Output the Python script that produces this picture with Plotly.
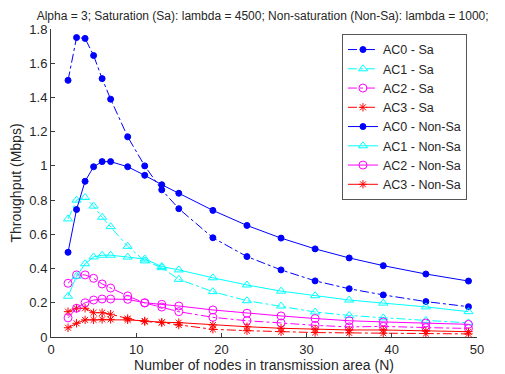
import plotly.graph_objects as go

# Number of nodes in the transmission area
nodes = [2, 3, 4, 5, 6, 7, 9, 11, 13, 15, 19, 23, 27, 31, 35, 39, 44, 49]

# Throughput (Mbps), saturation case (lambda = 4500)
ac0_sa = [1.50, 1.75, 1.745, 1.645, 1.51, 1.39, 1.17, 1.00, 0.86, 0.75, 0.58, 0.47,
          0.392, 0.328, 0.282, 0.246, 0.207, 0.177]
ac1_sa = [0.69, 0.80, 0.815, 0.765, 0.70, 0.645, 0.53, 0.445, 0.405, 0.337, 0.265, 0.212,
          0.181, 0.146, 0.126, 0.112, 0.097, 0.083]
ac2_sa = [0.314, 0.363, 0.363, 0.343, 0.31, 0.286, 0.24, 0.199, 0.175, 0.148, 0.115, 0.095,
          0.082, 0.068, 0.059, 0.062, 0.055, 0.05]
ac3_sa = [0.148, 0.168, 0.168, 0.142, 0.142, 0.133, 0.108, 0.09, 0.084, 0.07, 0.045, 0.037,
          0.031, 0.026, 0.024, 0.022, 0.02, 0.018]

# Throughput (Mbps), non-saturation case (lambda = 1000)
ac0_nsa = [0.495, 0.745, 0.91, 0.995, 1.025, 1.025, 0.995, 0.945, 0.89, 0.84, 0.74, 0.652,
           0.578, 0.515, 0.462, 0.417, 0.368, 0.327]
ac1_nsa = [0.238, 0.355, 0.428, 0.468, 0.478, 0.478, 0.467, 0.456, 0.412, 0.392, 0.346, 0.304,
           0.268, 0.241, 0.216, 0.198, 0.176, 0.148]
ac2_nsa = [0.112, 0.168, 0.2, 0.216, 0.222, 0.222, 0.22, 0.2, 0.191, 0.181, 0.158, 0.139,
           0.123, 0.108, 0.095, 0.088, 0.082, 0.074]
ac3_nsa = [0.054, 0.08, 0.1, 0.1, 0.103, 0.103, 0.1, 0.094, 0.086, 0.084, 0.07, 0.06,
           0.051, 0.045, 0.041, 0.041, 0.035, 0.031]

x_ticks = [0, 10, 20, 30, 40, 50]
y_ticks = [0, 0.2, 0.4, 0.6, 0.8, 1, 1.2, 1.4, 1.6, 1.8]

FONT = "Liberation Sans, Arial, sans-serif"
TEXT = "#262626"
AXIS = "#3a3a3a"

series = [
    ("AC0 - Sa", ac0_sa, "#0000ff", "dashdot", "circle", 6),
    ("AC1 - Sa", ac1_sa, "#00ffff", "dashdot", "triangle-up-open", 8),
    ("AC2 - Sa", ac2_sa, "#ff00ff", "dashdot", "circle-open", 8),
    ("AC3 - Sa", ac3_sa, "#ff0000", "dashdot", "asterisk-open", 7),
    ("AC0 - Non-Sa", ac0_nsa, "#0000ff", "solid", "circle", 6),
    ("AC1 - Non-Sa", ac1_nsa, "#00ffff", "solid", "triangle-up-open", 8),
    ("AC2 - Non-Sa", ac2_nsa, "#ff00ff", "solid", "circle-open", 8),
    ("AC3 - Non-Sa", ac3_nsa, "#ff0000", "solid", "asterisk-open", 7),
]

fig = go.Figure()
for name, vals, color, dash, symbol, size in series:
    fig.add_trace(go.Scatter(
        x=nodes, y=vals, name=name, mode="lines+markers",
        line=dict(color=color, width=1, dash=dash),
        marker=dict(symbol=symbol, size=size, color=color,
                    line=dict(color=color, width=1)),
    ))

fig.update_layout(
    width=505, height=374,
    margin=dict(l=51, r=28, t=29, b=37),
    paper_bgcolor="white", plot_bgcolor="white",
    font=dict(family=FONT, size=12, color=TEXT),
    title=dict(
        text="Alpha = 3; Saturation (Sa): lambda = 4500; Non-saturation (Non-Sa): lambda = 1000;",
        x=0.52, xanchor="center", y=0.958, yanchor="middle",
        font=dict(family=FONT, size=12, color=TEXT),
    ),
    showlegend=True,
    legend=dict(
        x=0.683, y=0.984, xanchor="left", yanchor="top",
        bgcolor="white", bordercolor="#555555", borderwidth=1,
        font=dict(family=FONT, size=12.5, color=TEXT),
        tracegroupgap=0,
    ),
    xaxis=dict(
        range=[0, 50], tickvals=x_ticks, ticks="inside", ticklen=4,
        tickcolor=AXIS, showline=True, linecolor=AXIS, linewidth=1,
        mirror=False, showgrid=False, zeroline=False, automargin=False,
        title=dict(text="Number of nodes in transmission area (N)", standoff=4),
        tickfont=dict(size=13),
    ),
    yaxis=dict(
        range=[0, 1.8], tickvals=y_ticks, ticks="inside", ticklen=4,
        tickcolor=AXIS, showline=True, linecolor=AXIS, linewidth=1,
        mirror=False, showgrid=False, zeroline=False, automargin=False,
        title=dict(text="Throughput (Mbps)", standoff=4),
        tickfont=dict(size=13),
    ),
)

fig.write_html("out.html")
